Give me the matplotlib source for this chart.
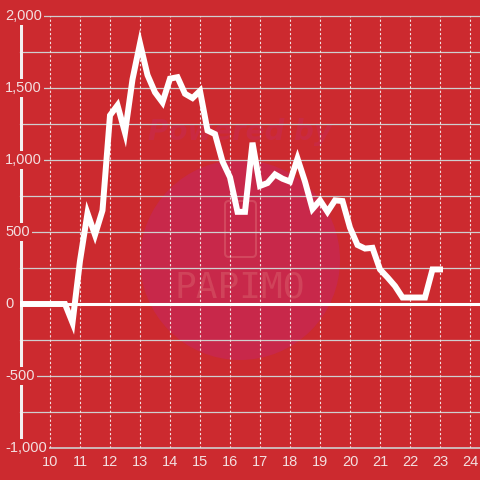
import matplotlib
matplotlib.use("Agg")
import matplotlib.pyplot as plt
from matplotlib.patches import Circle, FancyBboxPatch
from matplotlib.transforms import blended_transform_factory

# ---- data ----
hours = [9.0, 9.25, 9.5, 9.75, 10.0, 10.25, 10.5, 10.75,
         11.0, 11.25, 11.5, 11.75, 12.0, 12.25, 12.5, 12.75,
         13.0, 13.25, 13.5, 13.75, 14.0, 14.25, 14.5, 14.75,
         15.0, 15.25, 15.5, 15.75, 16.0, 16.25, 16.5, 16.75,
         17.0, 17.25, 17.5, 17.75, 18.0, 18.25, 18.5, 18.75,
         19.0, 19.25, 19.5, 19.75, 20.0, 20.25, 20.5, 20.75,
         21.0, 21.25, 21.5, 21.75, 22.0, 22.25, 22.5, 22.75, 23.0]
values = [0, 0, 0, 0, 0, 0, 0, -130,
          300, 630, 480, 650, 1310, 1380, 1190, 1560,
          1810, 1590, 1470, 1400, 1565, 1575, 1460, 1430,
          1480, 1205, 1180, 990, 880, 640, 640, 1120,
          820, 840, 900, 870, 850, 1010, 850, 660,
          720, 640, 720, 715, 530, 410, 385, 390,
          240, 185, 125, 45, 45, 45, 45, 240, 240]
x_ticks = [10, 11, 12, 13, 14, 15, 16, 17, 18, 19, 20, 21, 22, 23, 24]
y_ticks = [-1000, -500, 0, 500, 1000, 1500, 2000]
y_labels = ["-1,000", "-500", "0", "500", "1,000", "1,500", "2,000"]
y_grid = [-750, -500, -250, 250, 500, 750, 1000, 1250, 1500, 1750, 2000]

BG = "#cc2a2f"
TXT = "#f3dfe0"
GRID = "#cfcfcf"
W = 480.0

plt.rcParams['font.family'] = ['Liberation Sans', 'DejaVu Sans']

fig = plt.figure(figsize=(4.8, 4.8), dpi=100, facecolor=BG)
ax = fig.add_axes([20 / W, 32 / W, 460 / W, 432 / W], facecolor=BG)
ax.set_xlim(9.0, 9.0 + 460 / 30.0)
ax.set_ylim(-1000, 2000)
for s in ax.spines.values():
    s.set_visible(False)

def fx(px):
    return px / W

def fy(py):
    return 1 - py / W

# watermark (drawn inside the axes, below grid and data)
ax.add_patch(Circle((fx(240), fy(260)), 100 / W, transform=fig.transFigure,
                    facecolor="#c8284a", edgecolor="none", zorder=0.2))
ax.add_patch(FancyBboxPatch((fx(225), fy(257)), 31 / W, 56 / W,
                            boxstyle="round,pad=0,rounding_size=0.008",
                            transform=fig.transFigure, facecolor="none",
                            edgecolor="#d2475e", lw=1.5, zorder=0.3))
ax.text(fx(240), fy(132), "Powered by", color="#c92a42", fontsize=20,
        fontweight="bold", fontstyle="italic", ha="center", va="center",
        family="DejaVu Sans", zorder=0.3, transform=fig.transFigure)
ax.text(fx(240), fy(288), "PAPIMO", color="#d0435a", fontsize=26,
        ha="center", va="center", family="DejaVu Sans Mono", zorder=0.3,
        transform=fig.transFigure)

# grid
for g in y_grid:
    ax.axhline(g, color=GRID, lw=0.9, zorder=1, clip_on=False)
ax.axhline(-1000, color=GRID, lw=1.2, zorder=1, clip_on=False)
for t in x_ticks:
    ax.vlines(t, -1000, 2000, color=TXT, lw=0.8, linestyles=(0, (2, 2)),
              zorder=1)
ax.axhline(0, color="white", lw=2.2, zorder=2)

# y axis line
ax.vlines(9.0 + 1 / 30.0, -945, 1945, color="#f4f0f0", lw=2.2, zorder=2)

# data line
ax.plot(hours, values, color="white", lw=4.3, zorder=4,
        solid_joinstyle="miter", solid_capstyle="projecting")

# x tick labels
ax.set_xticks(x_ticks)
ax.set_xticklabels([str(t) for t in x_ticks])
ax.set_yticks([])
ax.tick_params(axis="x", length=0, pad=5, labelcolor=TXT, labelsize=10.5)

# y labels with background boxes
tr = blended_transform_factory(fig.transFigure, ax.transData)
for v, lab in zip(y_ticks, y_labels):
    ax.text(fx(5), v, lab, transform=tr, ha="left", va="center",
            color=TXT, fontsize=10.5, zorder=5,
            bbox=dict(boxstyle="square,pad=0.15", facecolor=BG,
                      edgecolor="none"))

fig.savefig("out.png", dpi=100, facecolor=BG)
